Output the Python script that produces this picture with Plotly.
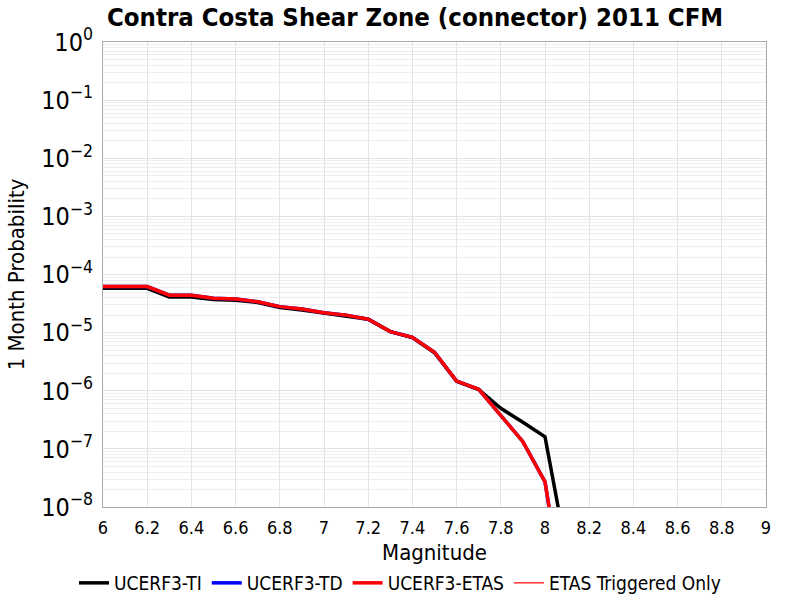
import plotly.graph_objects as go

mags = [6.0, 6.1, 6.2, 6.3, 6.4, 6.5, 6.6, 6.7, 6.8, 6.9, 7.0, 7.1, 7.2, 7.3, 7.4, 7.5, 7.6, 7.7, 7.8, 7.9, 8.0, 8.1]
ti = [5.8e-5, 5.8e-5, 5.8e-5, 4.1e-5, 4.1e-5, 3.7e-5, 3.6e-5, 3.3e-5, 2.7e-5, 2.45e-5, 2.15e-5, 1.95e-5, 1.7e-5,
      1.04e-5, 8.2e-6, 4.5e-6, 1.45e-6, 1.05e-6, 5.0e-7, 2.86e-7, 1.62e-7, 1.5e-9]
td = [6.2e-5, 6.2e-5, 6.2e-5, 4.4e-5, 4.4e-5, 3.9e-5, 3.8e-5, 3.4e-5, 2.8e-5, 2.55e-5, 2.2e-5, 2.0e-5, 1.7e-5,
      1.04e-5, 8.3e-6, 4.6e-6, 1.47e-6, 1.06e-6, 3.8e-7, 1.33e-7, 2.7e-8, 1.2e-10]
etas = [6.2e-5, 6.2e-5, 6.2e-5, 4.4e-5, 4.4e-5, 3.9e-5, 3.8e-5, 3.4e-5, 2.8e-5, 2.55e-5, 2.2e-5, 2.0e-5, 1.7e-5,
        1.04e-5, 8.3e-6, 4.6e-6, 1.47e-6, 1.06e-6, 3.8e-7, 1.33e-7, 2.7e-8, 1.2e-10]
triggered = [None] * len(mags)

x_ticks = [6.0, 6.2, 6.4, 6.6, 6.8, 7.0, 7.2, 7.4, 7.6, 7.8, 8.0, 8.2, 8.4, 8.6, 8.8, 9.0]
x_labels = ["6", "6.2", "6.4", "6.6", "6.8", "7", "7.2", "7.4", "7.6", "7.8", "8", "8.2", "8.4", "8.6", "8.8", "9"]
y_ticks = [1e-8, 1e-7, 1e-6, 1e-5, 1e-4, 1e-3, 1e-2, 1e-1, 1e0]
y_exps = ["−8", "−7", "−6", "−5", "−4", "−3", "−2", "−1", "0"]
y_labels = ["10<sup>%s</sup>" % e for e in y_exps]

fig = go.Figure()
fig.add_trace(go.Scatter(x=mags, y=ti, mode="lines", name="UCERF3-TI",
                         line=dict(color="black", width=3.5)))
fig.add_trace(go.Scatter(x=mags, y=td, mode="lines", name="UCERF3-TD",
                         line=dict(color="#0000ff", width=3.5)))
fig.add_trace(go.Scatter(x=mags, y=etas, mode="lines", name="UCERF3-ETAS",
                         line=dict(color="#ff0000", width=3.5)))
fig.add_trace(go.Scatter(x=mags, y=triggered, mode="lines", name="ETAS Triggered Only",
                         line=dict(color="#ff0000", width=1.2)))

font_family = "DejaVu Sans Condensed, DejaVu Sans, sans-serif"

fig.update_layout(
    width=800, height=600,
    paper_bgcolor="white", plot_bgcolor="white",
    margin=dict(l=103, r=34, t=42, b=93, autoexpand=False),
    font=dict(family=font_family, color="black"),
    title=dict(text="<b>Contra Costa Shear Zone (connector) 2011 CFM</b>",
               x=107/800, xanchor="left", y=1 - 17/600, yanchor="middle",
               font=dict(size=25.5, family=font_family, color="black")),
    showlegend=True,
    legend=dict(orientation="h", x=(400 - 103) / 663, xanchor="center", y=(507 - 583) / 465, yanchor="middle",
                font=dict(size=19, family=font_family), itemwidth=30, tracegroupgap=0,
                bgcolor="rgba(0,0,0,0)"),
    xaxis=dict(range=[6, 9], tickvals=x_ticks, ticktext=x_labels, automargin=False,
               showgrid=True, gridcolor="#e4e4e4", gridwidth=1,
               showline=True, linecolor="#aaaaaa", mirror=True, ticks="",
               zeroline=False, tickfont=dict(size=18), ticklabelstandoff=4,
               title=dict(text="Magnitude", font=dict(size=22), standoff=8)),
    yaxis=dict(type="log", range=[-8, 0], tickvals=y_ticks, ticktext=y_labels, automargin=False,
               showgrid=True, gridcolor="#e4e4e4", gridwidth=1,
               minor=dict(showgrid=True, gridcolor="#eeeeee", dtick="D1"),
               showline=True, linecolor="#aaaaaa", mirror=True, ticks="",
               zeroline=False, tickfont=dict(size=25), ticklabelstandoff=4,
               title=dict(text="1 Month Probability", font=dict(size=22), standoff=10)),
)

fig.write_html("out.html")
